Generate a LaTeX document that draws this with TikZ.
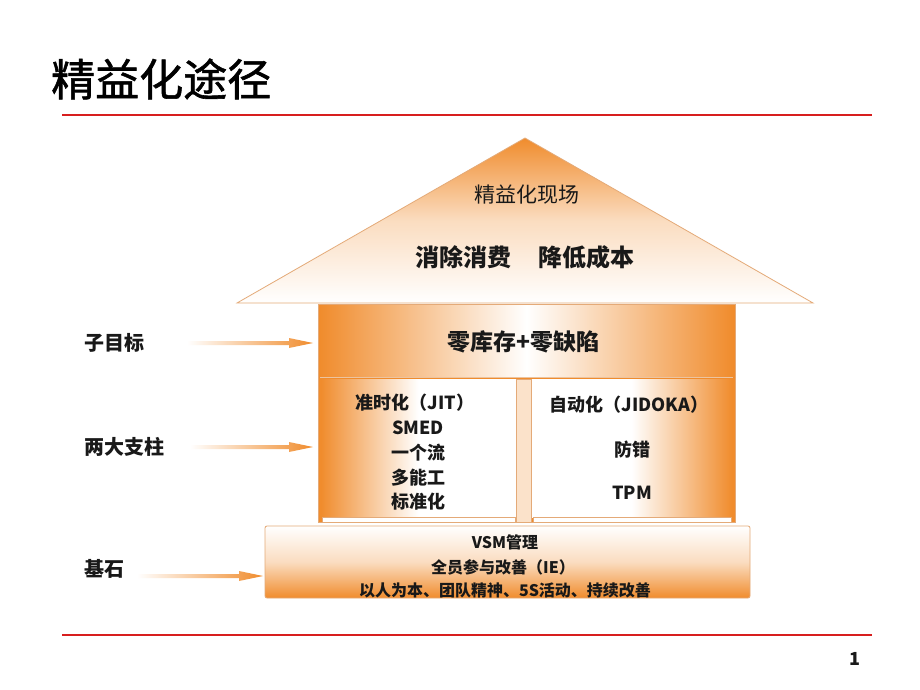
\documentclass[tikz,border=0pt]{standalone}
\usepackage{fontspec}
\setmainfont{Noto Sans CJK SC}
\newfontfamily\titlefont[FakeBold=1.3]{Noto Sans CJK SC}
\usetikzlibrary{calc}
\definecolor{orng}{RGB}{240,140,45}
\definecolor{redline}{RGB}{215,30,30}
\definecolor{edge}{RGB}{228,170,120}
\definecolor{ink}{RGB}{25,25,25}
\tikzset{
  lbl/.style={text=ink, font=\bfseries\fontsize{20}{22}\selectfont, anchor=west, inner sep=0pt},
  colt/.style={text=ink, font=\bfseries\fontsize{18}{20}\selectfont, inner sep=0pt},
  baset/.style={text=ink, font=\bfseries\fontsize{16}{18}\selectfont, inner sep=0pt},
  fadearrow/.style={left color=white, right color=orng}
}
\begin{document}
\begin{tikzpicture}[x=1pt,y=-1pt]
\useasboundingbox (0,0) rectangle (920,690);
\fill[white] (0,0) rectangle (920,690);

% title and rules
\node[anchor=west, inner sep=0pt, text=black, font=\titlefont\fontsize{44}{46}\selectfont] (title) at (51,79) {精益化途径};
\draw[redline, line width=2.2pt] (62,115) -- (872,115);
\draw[redline, line width=1.6pt] (62,635) -- (872,635);
\node[text=ink, font=\bfseries\fontsize{18}{20}\selectfont, inner sep=0pt] (pnum) at (855,659) {1};

% roof
\shadedraw[draw=edge, top color=orng, bottom color=white, middle color=orng!30, line width=0.8pt]
  (237,303) -- (525,138) -- (813,303) -- cycle;
\node[text=ink, font=\fontsize{21}{23}\selectfont, inner sep=0pt] (site) at (527,195) {精益化现场};
\node[text=ink, font=\bfseries\fontsize{24}{26}\selectfont, inner sep=0pt] (goal) at (525,257) {消除消费\hspace{28pt}降低成本};

% body
\filldraw[draw=edge, fill=orng, line width=0.8pt] (318,304) rectangle (735,522);
\shade[left color=orng, right color=orng, middle color=white] (320,305) rectangle (733,377);
\draw[edge!70, line width=0.6pt] (320,377) -- (733,377);
\shade[left color=orng, right color=white, middle color=white] (321,379) rectangle (516,517);
\shade[left color=white, right color=orng, middle color=white] (531,379) rectangle (732,517);
\filldraw[draw=edge, fill=orng!25, line width=0.6pt] (516,379) rectangle (531,522);
\filldraw[draw=edge, fill=white, line width=0.5pt] (322,517) rectangle (515,522);
\filldraw[draw=edge, fill=white, line width=0.5pt] (533,517) rectangle (731,522);

\node[text=ink, font=\bfseries\fontsize{23}{25}\selectfont, inner sep=0pt] (sub) at (523,342) {零库存+零缺陷};

\node[colt] (jit) at (415,403) {准时化（JIT）};
\node[colt] (smed) at (418,428) {SMED};
\node[colt] (flow) at (418,453) {一个流};
\node[colt] (multi) at (418,478) {多能工};
\node[colt] (std) at (418,502) {标准化};

\node[colt] (jidoka) at (629,405) {自动化（JIDOKA）};
\node[colt] (poka) at (632,450) {防错};
\node[colt] (tpm) at (632,493) {TPM};

% base
\shadedraw[draw=edge, rounded corners=2pt, top color=white, bottom color=orng, middle color=orng!30, line width=0.8pt]
  (265,526) rectangle (750,598);
\node[baset] (vsm) at (505,542) {VSM管理};
\node[baset] (ie) at (503,567) {全员参与改善（IE）};
\node[baset] (people) at (505,590) {以人为本、团队精神、5S活动、持续改善};

% left labels
\node[lbl] (l1) at (84,343) {子目标};
\node[lbl] (l2) at (84,447) {两大支柱};
\node[lbl] (l3) at (84,569) {基石};

% arrows
\coordinate (a1) at (187,343);
\coordinate (a2) at (190,447);
\coordinate (a3) at (137,576);
\shade[fadearrow] (a1) ++(0,-2) -- ++(102,0) -- ++(0,-3) -- ++(24,5) -- ++(-24,5) -- ++(0,-3) -- ++(-102,0) -- cycle;
\shade[fadearrow] (a2) ++(0,-2) -- ++(99,0) -- ++(0,-3) -- ++(24,5) -- ++(-24,5) -- ++(0,-3) -- ++(-99,0) -- cycle;
\shade[fadearrow] (a3) ++(0,-2) -- ++(102,0) -- ++(0,-3) -- ++(24,5) -- ++(-24,5) -- ++(0,-3) -- ++(-102,0) -- cycle;
\end{tikzpicture}
\end{document}
